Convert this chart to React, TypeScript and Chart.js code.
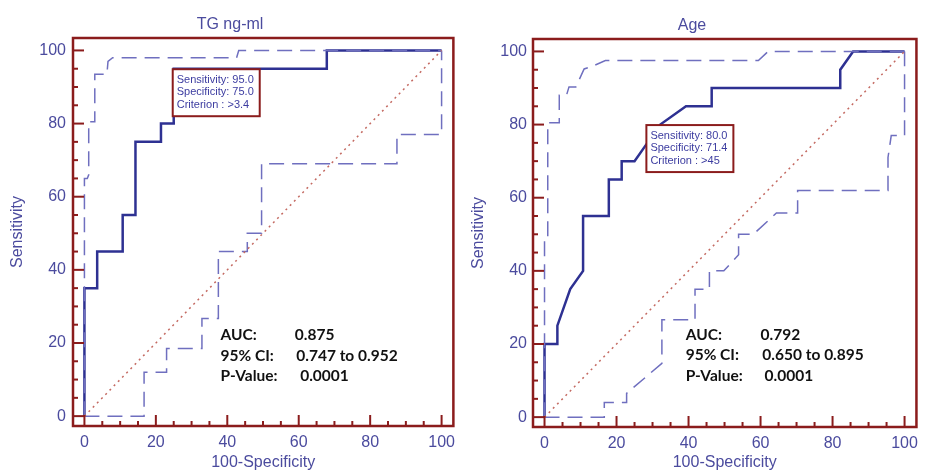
import React, { useEffect, useRef } from "react";
import { Chart, registerables } from "chart.js";

Chart.register(...registerables);

// ---------- Data ----------
const TICK_VALUES = [0, 20, 40, 60, 80, 100];
const MINOR_TICK_VALUES = [0, 5, 10, 15, 20, 25, 30, 35, 40, 45, 50, 55, 60, 65, 70, 75, 80, 85, 90, 95, 100];

const DIAG_X = [0, 100];
const DIAG_Y = [0, 100];

// TG ng-ml
const TG_MAIN_X = [0, 0, 3.57, 3.57, 10.71, 10.71, 14.29, 14.29, 21.43, 21.43, 25, 25, 67.86, 67.86, 100];
const TG_MAIN_Y = [0, 35, 35, 45, 45, 55, 55, 75, 75, 80, 80, 95, 95, 100, 100];
const TG_UPPER_X = [0, 0, 0.8, 1.2, 1.2, 2.9, 2.9, 6.3, 6.6, 7.9, 42.6, 43.2, 100];
const TG_UPPER_Y = [0, 65, 65, 66, 80.5, 80.5, 93.5, 93.5, 97, 98, 98, 100, 100];
const TG_LOWER_X = [0, 16.7, 16.7, 23, 23, 32.9, 32.9, 37.5, 37.5, 45.6, 45.6, 49.6, 49.6, 87.5, 87.5, 100, 100];
const TG_LOWER_Y = [0, 0, 12, 12, 18.5, 18.5, 26.7, 26.7, 45, 45, 50, 50, 69, 69, 77, 77, 100];
const TG_CRITERION = [25, 95];
const TG_BOX_LINES = ["Sensitivity: 95.0", "Specificity: 75.0", "Criterion : >3.4"];
const TG_STAT_LABELS = ["AUC:", "95% CI:", "P-Value:"];
const TG_STAT_VALUES = ["0.875", "0.747 to 0.952", "0.0001"];

// Age
const AGE_MAIN_X = [0, 0, 3.57, 3.57, 7.14, 10.71, 10.71, 17.86, 17.86, 21.43, 21.43, 25, 28.57, 32.14, 39.29, 46.43, 46.43, 82.14, 82.14, 85.71, 100];
const AGE_MAIN_Y = [0, 20, 20, 25, 35, 40, 55, 55, 65, 65, 70, 70, 75, 80, 85, 85, 90, 90, 95, 100, 100];
const AGE_UPPER_X = [0, 0, 0.9, 0.9, 4.1, 4.1, 6.1, 6.8, 8.7, 11, 13.2, 16.9, 59.4, 62.1, 100];
const AGE_UPPER_Y = [0, 49, 49, 80.5, 80.5, 88, 88, 90.3, 90.3, 95.2, 95.9, 97.5, 97.5, 100, 100];
const AGE_LOWER_X = [0, 16.6, 16.6, 22.8, 22.8, 32.6, 32.6, 41.8, 41.8, 45.8, 45.8, 49.8, 53.9, 53.9, 58, 64.4, 70.3, 70.3, 95.4, 95.4, 96.3, 100, 100];
const AGE_LOWER_Y = [0, 0, 4, 4, 6.5, 14.7, 26.6, 26.6, 35, 35, 40, 40, 44.4, 50, 50, 55.8, 55.8, 62, 62, 71, 77, 77, 100];
const AGE_CRITERION = [28.57, 80];
const AGE_BOX_LINES = ["Sensitivity: 80.0", "Specificity: 71.4", "Criterion : >45"];
const AGE_STAT_LABELS = ["AUC:", "95% CI:", "P-Value:"];
const AGE_STAT_VALUES = ["0.792", "0.650 to 0.895", "0.0001"];

// ---------- Styles ----------
const FRAME_COLOR = "#8b1c1c";
const TEXT_BLUE = "#4b4b9e";
const MAIN_COLOR = "#2e3192";
const CI_COLOR = "#6f6fbf";
const DIAG_COLOR = "#c46a62";
const AXIS_FONT = "'Liberation Sans', Arial, sans-serif";

type Layout = {
  left: number;
  width: number;
  yAxisWidth: number;
  xAxisHeight: number;
  padRight: number;
  titleTop: number;
  titleBottom: number;
  yTickPad: number;
  yTitlePad: number;
  statX: number;
  valX: number[];
  statY: number[];
};

type RocProps = {
  title: string;
  mainX: number[];
  mainY: number[];
  upperX: number[];
  upperY: number[];
  lowerX: number[];
  lowerY: number[];
  criterion: number[];
  boxLines: string[];
  statLabels: string[];
  statValues: string[];
  layout: Layout;
};

const pts = (xs: number[], ys: number[]) => xs.map((x, i) => ({ x, y: ys[i] }));

function RocChart(props: RocProps) {
  const ref = useRef<HTMLCanvasElement | null>(null);
  const L = props.layout;

  useEffect(() => {
    if (!ref.current) return;
    const plugin = {
      id: "rocDecor",
      afterDatasetsDraw(chart: any) {
        const { ctx, scales } = chart;
        const xs = scales.x;
        const ys = scales.y;
        ctx.save();
        // criterion box
        const bx = xs.getPixelForValue(props.criterion[0]) - 1;
        const by = ys.getPixelForValue(props.criterion[1]) + 0.5;
        const bw = 87;
        const bh = 47;
        ctx.fillStyle = "#ffffff";
        ctx.fillRect(bx, by, bw, bh);
        ctx.strokeStyle = FRAME_COLOR;
        ctx.lineWidth = 2;
        ctx.strokeRect(bx, by, bw, bh);
        ctx.fillStyle = "#3c3ca0";
        ctx.font = `11px ${AXIS_FONT}`;
        ctx.textBaseline = "middle";
        ctx.textAlign = "left";
        props.boxLines.forEach((t, i) => {
          ctx.fillText(t, bx + 4, by + 11 + i * 12.2);
        });
        // stats
        ctx.fillStyle = "#111111";
        ctx.font = "bold 15.5px Lato, 'Open Sans', sans-serif";
        ctx.textBaseline = "alphabetic";
        props.statLabels.forEach((t, i) => {
          const yy = ys.getPixelForValue(L.statY[i]);
          ctx.fillText(t, xs.getPixelForValue(L.statX), yy);
          ctx.fillText(props.statValues[i], xs.getPixelForValue(L.valX[i]), yy);
        });
        ctx.restore();
      },
      afterDraw(chart: any) {
        const { ctx, chartArea: a, scales } = chart;
        const xs = scales.x;
        const ys = scales.y;
        ctx.save();
        ctx.strokeStyle = FRAME_COLOR;
        ctx.lineWidth = 2;
        MINOR_TICK_VALUES.forEach((v) => {
          const len = v % 20 === 0 ? 11 : 5;
          const py = ys.getPixelForValue(v);
          ctx.beginPath();
          ctx.moveTo(a.left, py);
          ctx.lineTo(a.left + len, py);
          ctx.stroke();
          const px = xs.getPixelForValue(v);
          ctx.beginPath();
          ctx.moveTo(px, a.bottom);
          ctx.lineTo(px, a.bottom - len);
          ctx.stroke();
        });
        ctx.lineWidth = 2.5;
        ctx.strokeRect(a.left, a.top, a.right - a.left, a.bottom - a.top);
        ctx.restore();
      },
    };

    const chart = new Chart(ref.current, {
      type: "scatter",
      data: {
        datasets: [
          {
            data: pts(DIAG_X, DIAG_Y),
            showLine: true,
            borderColor: DIAG_COLOR,
            borderWidth: 1.5,
            borderDash: [2, 4],
            pointRadius: 0,
          },
          {
            data: pts(props.lowerX, props.lowerY),
            showLine: true,
            borderColor: CI_COLOR,
            borderWidth: 1.5,
            borderDash: [15, 8],
            pointRadius: 0,
          },
          {
            data: pts(props.upperX, props.upperY),
            showLine: true,
            borderColor: CI_COLOR,
            borderWidth: 1.5,
            borderDash: [15, 8],
            pointRadius: 0,
          },
          {
            data: pts(props.mainX, props.mainY),
            showLine: true,
            borderColor: MAIN_COLOR,
            borderWidth: 2.5,
            pointRadius: 0,
          },
        ],
      } as any,
      options: {
        animation: false,
        responsive: false,
        events: [],
        layout: { padding: { left: 0, right: L.padRight, top: 0, bottom: 0 } },
        plugins: {
          legend: { display: false },
          tooltip: { enabled: false },
          title: {
            display: true,
            text: props.title,
            color: TEXT_BLUE,
            font: { size: 16, family: AXIS_FONT, weight: "normal" },
            padding: { top: L.titleTop, bottom: L.titleBottom },
          },
        },
        scales: {
          x: {
            type: "linear",
            min: -3.2,
            max: 103.3,
            grid: { display: false, drawTicks: false },
            border: { display: false },
            afterBuildTicks: (s: any) => {
              s.ticks = TICK_VALUES.map((v) => ({ value: v }));
            },
            afterFit: (s: any) => {
              s.height = L.xAxisHeight;
            },
            ticks: {
              color: TEXT_BLUE,
              font: { size: 16, family: AXIS_FONT },
              padding: 7,
              maxRotation: 0,
            },
            title: {
              display: true,
              text: "100-Specificity",
              color: TEXT_BLUE,
              font: { size: 16, family: AXIS_FONT },
              padding: { top: 0, bottom: 0 },
            },
          },
          y: {
            type: "linear",
            min: -2.7,
            max: 103.4,
            grid: { display: false, drawTicks: false },
            border: { display: false },
            afterBuildTicks: (s: any) => {
              s.ticks = TICK_VALUES.map((v) => ({ value: v }));
            },
            afterFit: (s: any) => {
              s.width = L.yAxisWidth;
            },
            ticks: {
              color: TEXT_BLUE,
              font: { size: 16, family: AXIS_FONT },
              padding: L.yTickPad,
            },
            title: {
              display: true,
              text: "Sensitivity",
              color: TEXT_BLUE,
              font: { size: 16, family: AXIS_FONT },
              padding: { top: L.yTitlePad, bottom: 0 },
            },
          },
        },
      } as any,
      plugins: [plugin],
    });
    return () => chart.destroy();
  }, []);

  return (
    <canvas
      ref={ref}
      width={L.width}
      height={472}
      style={{ position: "absolute", left: L.left, top: 0, width: L.width, height: 472, display: "block" }}
    />
  );
}

const LEFT_LAYOUT: Layout = {
  left: 0,
  width: 462,
  yAxisWidth: 73,
  xAxisHeight: 46,
  padRight: 2,
  titleTop: 15.4,
  titleBottom: 3.4,
  yTickPad: 7,
  yTitlePad: 8.4,
  statX: 38.1,
  valX: [58.9, 59.3, 60.4],
  statY: [20.8, 15.2, 9.5],
};

const RIGHT_LAYOUT: Layout = {
  left: 462,
  width: 463,
  yAxisWidth: 71,
  xAxisHeight: 45,
  padRight: 3,
  titleTop: 16.4,
  titleBottom: 3.4,
  yTickPad: 6,
  yTitlePad: 7,
  statX: 39.2,
  valX: [60, 60.5, 61.1],
  statY: [21.2, 15.6, 10],
};

export default function App() {
  return (
    <div style={{ position: "fixed", left: 0, top: 0, width: 925, height: 472, background: "#ffffff", overflow: "hidden" }}>
      <RocChart
        title="TG ng-ml"
        mainX={TG_MAIN_X}
        mainY={TG_MAIN_Y}
        upperX={TG_UPPER_X}
        upperY={TG_UPPER_Y}
        lowerX={TG_LOWER_X}
        lowerY={TG_LOWER_Y}
        criterion={TG_CRITERION}
        boxLines={TG_BOX_LINES}
        statLabels={TG_STAT_LABELS}
        statValues={TG_STAT_VALUES}
        layout={LEFT_LAYOUT}
      />
      <RocChart
        title="Age"
        mainX={AGE_MAIN_X}
        mainY={AGE_MAIN_Y}
        upperX={AGE_UPPER_X}
        upperY={AGE_UPPER_Y}
        lowerX={AGE_LOWER_X}
        lowerY={AGE_LOWER_Y}
        criterion={AGE_CRITERION}
        boxLines={AGE_BOX_LINES}
        statLabels={AGE_STAT_LABELS}
        statValues={AGE_STAT_VALUES}
        layout={RIGHT_LAYOUT}
      />
    </div>
  );
}
